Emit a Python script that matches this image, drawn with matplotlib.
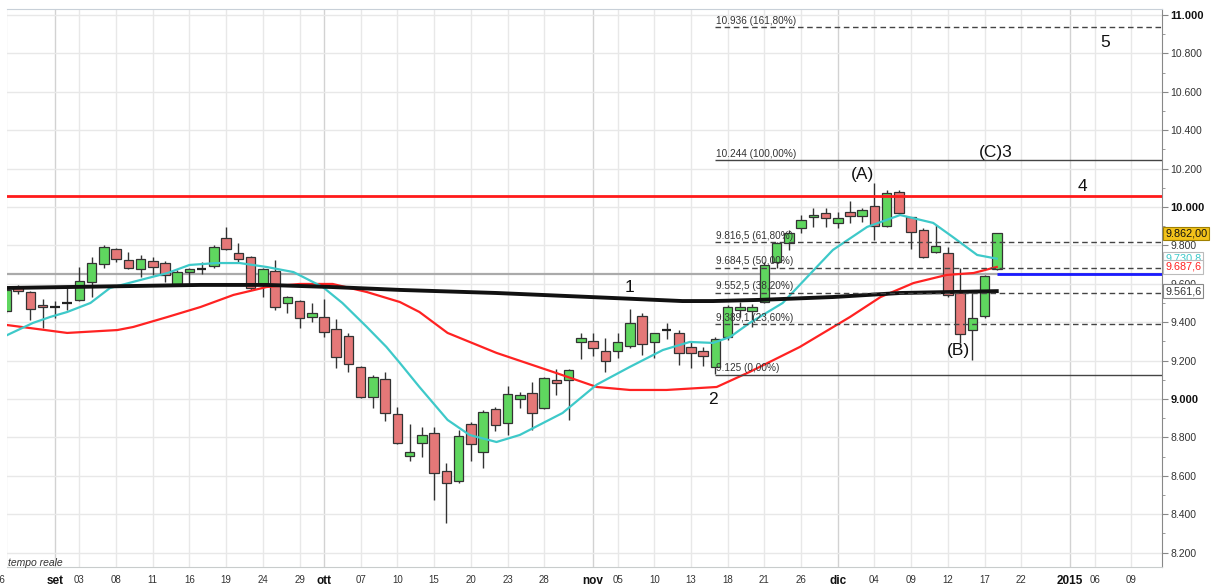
import matplotlib
matplotlib.use("Agg")
import matplotlib.pyplot as plt
import matplotlib.transforms as mtransforms
from matplotlib.patches import Rectangle
from matplotlib.ticker import FixedLocator, MultipleLocator

plt.rcParams['font.family'] = ['Liberation Sans', 'DejaVu Sans']

# ---------------- data (prices in thousands of points, x = trading-day index, 0 = 1 Sep 2014)
day_idx = list(range(-4, 78))
opens = [9.458, 9.583, 9.557, 9.490, 9.480, 9.500, 9.516, 9.609, 9.703, 9.781,
         9.724, 9.677, 9.719, 9.708, 9.599, 9.661, 9.677, 9.693, 9.839, 9.760,
         9.740, 9.599, 9.667, 9.500, 9.510, 9.427, 9.427, 9.365, 9.328, 9.167,
         9.010, 9.104, 8.922, 8.703, 8.771, 8.823, 8.625, 8.573, 8.870, 8.724,
         8.948, 8.875, 9.000, 9.031, 8.953, 9.099, 9.099, 9.297, 9.302, 9.250,
         9.250, 9.276, 9.432, 9.297, 9.359, 9.344, 9.271, 9.250, 9.167, 9.323,
         9.464, 9.458, 9.505, 9.714, 9.8125, 9.891, 9.948, 9.969, 9.917, 9.974,
         9.953, 10.005, 9.901, 10.078, 9.948, 9.880, 9.766, 9.760, 9.5625, 9.359,
         9.432, 9.677]
closes = [9.568, 9.5625, 9.469, 9.479, 9.478, 9.501, 9.615, 9.708, 9.792, 9.729,
          9.682, 9.729, 9.6875, 9.646, 9.661, 9.677, 9.678, 9.792, 9.781, 9.729,
          9.578, 9.677, 9.479, 9.531, 9.422, 9.448, 9.349, 9.219, 9.182, 9.010,
          9.115, 8.927, 8.771, 8.724, 8.8125, 8.615, 8.5625, 8.807, 8.766, 8.932,
          8.865, 9.026, 9.021, 8.927, 9.109, 9.083, 9.151, 9.318, 9.266, 9.198,
          9.297, 9.396, 9.286, 9.344, 9.357, 9.240, 9.240, 9.224, 9.3125, 9.479,
          9.479, 9.479, 9.698, 9.8125, 9.865, 9.932, 9.958, 9.943, 9.943, 9.953,
          9.984, 9.901, 10.073, 9.969, 9.870, 9.740, 9.797, 9.542, 9.339, 9.422,
          9.641, 9.862]
highs = [9.575, 9.594, 9.560, 9.521, 9.510, 9.578, 9.6875, 9.740, 9.800, 9.786,
         9.766, 9.750, 9.740, 9.719, 9.672, 9.680, 9.714, 9.802, 9.896, 9.8125,
         9.745, 9.680, 9.724, 9.535, 9.515, 9.500, 9.521, 9.417, 9.344, 9.172,
         9.125, 9.141, 8.958, 8.870, 8.854, 8.854, 8.667, 8.839, 8.880, 8.943,
         8.958, 9.068, 9.036, 9.089, 9.115, 9.156, 9.156, 9.344, 9.344, 9.318,
         9.344, 9.469, 9.448, 9.345, 9.396, 9.359, 9.297, 9.271, 9.323, 9.490,
         9.505, 9.495, 9.714, 9.818, 9.880, 9.958, 9.995, 9.995, 9.974, 10.031,
         9.995, 10.125, 10.089, 10.089, 9.950, 9.891, 9.906, 9.792, 9.682, 9.568,
         9.645, 9.866]
lows = [9.450, 9.547, 9.411, 9.370, 9.422, 9.464, 9.510, 9.531, 9.682, 9.714,
        9.677, 9.635, 9.646, 9.609, 9.595, 9.594, 9.651, 9.682, 9.776, 9.714,
        9.570, 9.531, 9.464, 9.448, 9.370, 9.401, 9.323, 9.161, 9.141, 9.005,
        8.953, 8.885, 8.766, 8.677, 8.698, 8.474, 8.354, 8.5625, 8.677, 8.641,
        8.833, 8.8125, 8.953, 8.839, 8.950, 9.021, 8.891, 9.208, 9.224, 9.141,
        9.214, 9.266, 9.229, 9.214, 9.3125, 9.177, 9.161, 9.172, 9.130, 9.307,
        9.427, 9.375, 9.500, 9.682, 9.776, 9.865, 9.896, 9.896, 9.891, 9.917,
        9.922, 9.828, 9.896, 9.964, 9.781, 9.734, 9.760, 9.531, 9.292, 9.203,
        9.422, 9.670]

# moving averages
cyan_idx = [-3.9, -1.8, -0.4, 1.0, 2.9, 4.5, 7.0, 9.2, 11.0, 13.2, 15.1, 17.3, 19.5,
            21.9, 23.5, 25.5, 27.1, 28.2, 29.8, 32.1, 33.9, 36.1, 38.0, 41.5, 44.3,
            47.0, 49.7, 51.9, 53.8, 55.2, 56.8, 59.5, 61.5, 63.6, 66.4, 69.1, 71.8,
            73.4, 75.4, 77.0]
cyan_val = [9.333, 9.396, 9.427, 9.453, 9.500, 9.578, 9.620, 9.656, 9.698, 9.708,
            9.708, 9.6875, 9.661, 9.583, 9.500, 9.375, 9.271, 9.1875, 9.0625, 8.891,
            8.8125, 8.776, 8.8125, 8.927, 9.075, 9.167, 9.255, 9.297, 9.292, 9.323,
            9.396, 9.500, 9.635, 9.776, 9.896, 9.958, 9.917, 9.844, 9.750, 9.7308]
red_idx = [-3.9, 1.0, 5.1, 6.4, 9.2, 11.9, 14.6, 17.3, 20.0, 22.7, 25.5, 28.2, 29.8,
           32.1, 36.1, 41.0, 44.3, 47.0, 50.0, 54.1, 56.8, 60.9, 65.0, 67.5, 70.2,
           72.9, 75.1, 77.0]
red_val = [9.385, 9.344, 9.359, 9.375, 9.427, 9.479, 9.542, 9.583, 9.599, 9.599,
           9.557, 9.505, 9.453, 9.344, 9.240, 9.135, 9.0625, 9.047, 9.047, 9.0625,
           9.141, 9.271, 9.427, 9.531, 9.604, 9.646, 9.656, 9.6876]
black_idx = [-3.92, 1, 11.9, 17.3, 22.7, 28.2, 36.1, 45.6, 51.3, 53.8, 57.6, 63.6, 69.1, 77.0]
black_val = [9.578, 9.583, 9.594, 9.594, 9.583, 9.568, 9.552, 9.526, 9.510, 9.510,
             9.516, 9.531, 9.552, 9.5616]

# horizontal levels
resistance = 10.057
ref_level = 9.651
fib_start = 54
fib_levels = [10.936, 10.244, 9.8165, 9.6845, 9.5525, 9.3891, 9.125]
fib_labels = ["10.936 (161,80%)", "10.244 (100,00%)", "9.816,5 (61,80%)", "9.684,5 (50,00%)",
              "9.552,5 (38,20%)", "9.389,1 (23,60%)", "9.125 (0,00%)"]
fib_dashed = [True, False, True, True, True, True, False]

# wave labels
wave_text = ["1", "2", "(A)", "(B)", "(C)3", "4", "5"]
wave_x = [47.0, 53.8, 66.0, 73.9, 76.9, 84.0, 85.85]
wave_y = [9.583, 8.995, 10.167, 9.25, 10.286, 10.109, 10.859]

# x ticks
tick_pos = [-4, 0, 2, 5, 8, 11, 14, 17, 20, 22, 25, 28, 31, 34, 37, 40, 44, 46, 49, 52,
            55, 58, 61, 64, 67, 70, 73, 76, 79, 83, 85, 88]
tick_labels = ["26", "set", "03", "08", "11", "16", "19", "24", "29", "ott", "07", "10",
               "15", "20", "23", "28", "nov", "05", "10", "13", "18", "21", "26", "dic",
               "04", "09", "12", "17", "22", "2015", "06", "09"]
month_labels = {"set", "ott", "nov", "dic", "2015"}

# right-side value boxes
box_vals = [9.7308, 9.6876, 9.5616, 9.862]
box_text = ["9.730,8", "9.687,6", "9.561,6", "9.862,00"]

# ---------------- figure
W, H = 1214, 586
fig = plt.figure(figsize=(W / 100, H / 100), dpi=100)
ax = fig.add_axes([7 / W, 1 - 567 / H, (1162 - 7) / W, (567 - 9) / H])
XMIN, XMAX = -3.92, 90.51
ax.set_xlim(XMIN, XMAX)
ax.set_ylim(8.125, 11.031)

# grid
for p, lab in zip(tick_pos, tick_labels):
    c = '#d2d2d2' if lab in month_labels else '#e8e8e8'
    ax.axvline(p, color=c, lw=1.0, zorder=0)
yt = [round(8.2 + 0.2 * k, 1) for k in range(15)]
for v in yt:
    ax.axhline(v, color='#e8e8e8', lw=1.0, zorder=0)

ax.axhline(ref_level, color='#aaaaaa', lw=1.6, zorder=1)

# candles
green, red = '#5fd65f', '#e57878'
for i, o, h, l, c in zip(day_idx, opens, highs, lows, closes):
    ax.vlines(i, l, h, color='#333333', lw=1.0, zorder=3)
    if abs(c - o) < 0.004:
        ax.hlines(o, i - 0.39, i + 0.39, color='#222222', lw=1.6, zorder=4)
    else:
        col = green if c > o else red
        ax.add_patch(Rectangle((i - 0.39, min(o, c)), 0.78, abs(c - o),
                               facecolor=col, edgecolor='#333333', lw=0.9, zorder=4))

# moving averages
ax.plot(red_idx, red_val, color='#ff2222', lw=1.6, zorder=5)
ax.plot(cyan_idx, cyan_val, color='#3ec9c9', lw=1.6, zorder=5)
ax.plot(black_idx, black_val, color='#111111', lw=2.8, zorder=6)

# resistance and blue line
ax.axhline(resistance, color='#ff1a1a', lw=2.0, zorder=6)
ax.hlines(ref_level, 77, XMAX, color='#1a1aff', lw=2.0, zorder=7)

# fibonacci
for lev, lab, dsh in zip(fib_levels, fib_labels, fib_dashed):
    ls = (0, (4, 2.6)) if dsh else '-'
    ax.hlines(lev, fib_start, XMAX, color='#444444', lw=1.0, linestyles=[ls], zorder=7)
    ax.text(fib_start + 0.05, lev + 0.008, lab, fontsize=7.2, color='#333333',
            ha='left', va='bottom', zorder=8)

# wave labels
for t, x, y in zip(wave_text, wave_x, wave_y):
    ax.text(x, y, t, fontsize=12.5, color='#111111', ha='center', va='center', zorder=9)

# y axis on right
ax.yaxis.tick_right()
ax.yaxis.set_major_locator(FixedLocator(yt))
ax.yaxis.set_minor_locator(MultipleLocator(0.1))
ax.set_yticklabels([f"{v:.3f}" for v in yt])
ax.tick_params(axis='y', which='major', direction='out', length=4, color='#888888',
               labelsize=7.5, labelcolor='#333333', pad=2)
ax.tick_params(axis='y', which='minor', direction='out', length=2.5, color='#888888')
for lbl, v in zip(ax.get_yticklabels(), yt):
    if abs(v - round(v)) < 1e-6:
        lbl.set_fontweight('bold')
        lbl.set_color('#111111')
        lbl.set_fontsize(8)

# x axis (labels inside the view; the first, cut-off one is drawn by hand)
vis_pos = [p for p in tick_pos if XMIN <= p <= XMAX]
vis_lab = [l for p, l in zip(tick_pos, tick_labels) if XMIN <= p <= XMAX]
ax.xaxis.set_major_locator(FixedLocator(vis_pos))
ax.set_xticklabels(vis_lab)
ax.tick_params(axis='x', length=0, labelsize=7, labelcolor='#333333', pad=6)
for lbl in ax.get_xticklabels():
    if lbl.get_text() in month_labels:
        lbl.set_fontweight('bold')
        lbl.set_fontsize(8.5)
        lbl.set_color('#111111')
xtrans = mtransforms.blended_transform_factory(ax.transData, ax.transAxes)
for p, l in zip(tick_pos, tick_labels):
    if p < XMIN:
        ax.text(p - 0.5, -0.0235, l, transform=xtrans, fontsize=7, color='#333333',
                ha='center', va='center', clip_on=False)

ax.spines['left'].set_visible(False)
ax.spines['top'].set_color('#c8d0d8')
ax.spines['bottom'].set_color('#c8cccc')
ax.spines['right'].set_color('#888888')

# value boxes on right axis
trans = mtransforms.blended_transform_factory(ax.transAxes, ax.transData)
box_styles = [
    dict(color='#3ec9c9', fc='white', ec='#bbbbbb'),
    dict(color='#ff2222', fc='white', ec='#bbbbbb'),
    dict(color='#333333', fc='white', ec='#888888'),
    dict(color='#111111', fc='#f2c21a', ec='#a08000'),
]
for k, (v, t, st) in enumerate(zip(box_vals, box_text, box_styles)):
    ax.text(1.0028, v, t, transform=trans, fontsize=7.8, color=st['color'],
            ha='left', va='center', clip_on=False, zorder=20 + k,
            bbox=dict(boxstyle='square,pad=0.18', fc=st['fc'], ec=st['ec'], lw=0.8))

ax.text(-3.85, 8.146, "tempo reale", fontsize=7.5, style='italic', color='#333333',
        ha='left', va='center', zorder=9)

fig.savefig("out.png", dpi=100)
